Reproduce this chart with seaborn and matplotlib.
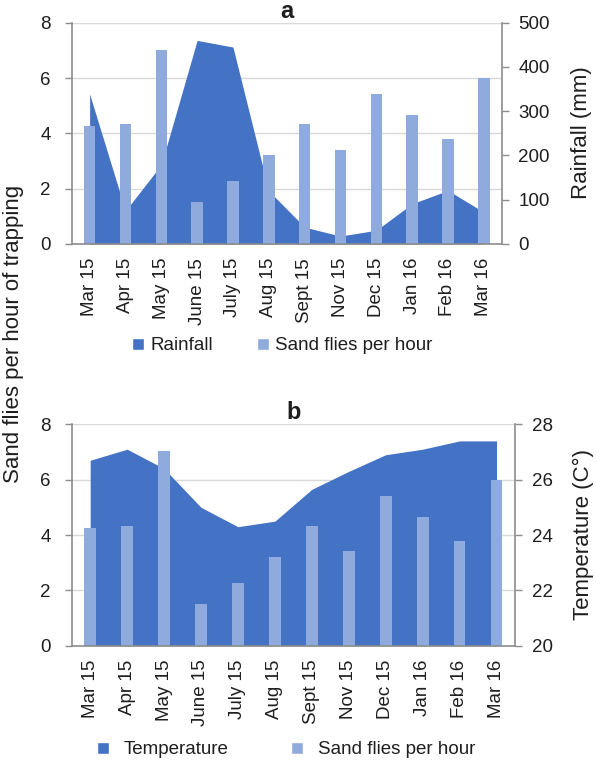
import matplotlib
matplotlib.use("Agg")
import matplotlib.pyplot as plt
import seaborn as sns
import numpy as np
from matplotlib.patches import Patch

# ---------------- data ----------------
months = ["Mar 15", "Apr 15", "May 15", "June 15", "July 15", "Aug 15",
          "Sept 15", "Nov 15", "Dec 15", "Jan 16", "Feb 16", "Mar 16"]
sand_flies = [4.27, 4.33, 7.03, 1.51, 2.28, 3.20, 4.32, 3.41, 5.42, 4.65, 3.79, 6.00]
rainfall = [339, 75, 179, 460, 445, 120, 38, 18, 31, 91, 121, 72]
temperature = [26.7, 27.1, 26.4, 25.0, 24.3, 24.5, 25.65, 26.3, 26.9, 27.1, 27.4, 27.4]

left_ticks = [0, 2, 4, 6, 8]
rain_ticks = [0, 100, 200, 300, 400, 500]
temp_ticks = [20, 22, 24, 26, 28]

# ---------------- style ----------------
sns.set_style("white")
plt.rcParams['font.family'] = ['Liberation Sans', 'DejaVu Sans']

DARK = "#4472C4"
LIGHT = "#8FAADC"
GRID = "#D9D9D9"
SPINE = "#8C8C8C"
TXT = "#1E1E1E"
FS = 13.5

W, H = 596, 762
fig = plt.figure(figsize=(W / 100, H / 100), dpi=100)


def rect(l, t, r, b):
    return [l / W, 1 - b / H, (r - l) / W, (b - t) / H]


def panel(box, area_vals, area_ticks, title, area_label, leg_xy, colsp, txtpad):
    ax = fig.add_axes(box)          # gridlines + left axis + category axis
    ax2 = ax.twinx()                # area (right axis)
    ax3 = ax.twinx()                # bars (left scale)

    # bars via seaborn
    sns.barplot(x=months, y=sand_flies, order=months, ax=ax3, color=LIGHT,
                width=0.32, saturation=1, edgecolor="none")
    # area on the right axis
    xpos = np.arange(len(months))
    ax2.fill_between(xpos, area_vals, area_ticks[0], color=DARK, linewidth=0)

    for a in (ax, ax3):
        a.set_ylim(left_ticks[0], left_ticks[-1])
    ax2.set_ylim(area_ticks[0], area_ticks[-1])
    ax.set_xlim(-0.5, len(months) - 0.5)

    ax.set_yticks(left_ticks)
    ax.yaxis.grid(True, color=GRID, linewidth=1)
    ax.xaxis.grid(False)
    ax.set_axisbelow(True)

    ax.set_xticks(xpos)
    ax.set_xticklabels(months, rotation=90, fontsize=FS, color=TXT)
    ax.tick_params(axis='x', length=0, pad=10)
    ax.tick_params(axis='y', left=True, length=5, width=1, color=SPINE,
                   pad=10, labelsize=FS, labelcolor=TXT)

    ax2.set_yticks(area_ticks)
    ax2.tick_params(axis='y', right=True, length=5, width=1, color=SPINE,
                    pad=7, labelsize=FS, labelcolor=TXT)

    ax3.yaxis.set_visible(False)
    ax3.set_xlabel("")
    ax3.set_ylabel("")

    for a in (ax, ax2, ax3):
        for s in a.spines.values():
            s.set_visible(False)
    for a, side in ((ax, 'left'), (ax3, 'bottom'), (ax2, 'right')):
        a.spines[side].set_visible(True)
        a.spines[side].set_color(SPINE)
        a.spines[side].set_linewidth(1.2)

    ax.set_title(title, fontsize=17, fontweight='bold', pad=3, color=TXT)

    handles = [Patch(facecolor=DARK, label=area_label),
               Patch(facecolor=LIGHT, label="Sand flies per hour")]
    fig.legend(handles=handles, loc='center', bbox_to_anchor=leg_xy, ncol=2,
               frameon=False, fontsize=FS, handlelength=0.65, handleheight=0.65,
               handletextpad=txtpad, columnspacing=colsp, labelcolor=TXT)
    return ax, ax2, ax3


panel(rect(71.7, 22.7, 501.7, 244), rainfall, rain_ticks, "a", "Rainfall",
      (282.5 / W, 1 - 346 / H), 2.3, 0.35)
panel(rect(71.7, 424.3, 515, 645.7), temperature, temp_ticks, "b", "Temperature",
      (286 / W, 1 - 750 / H), 3.3, 0.8)

fig.text(14 / W, 1 - 334 / H, "Sand flies per hour of trapping", rotation=90,
         ha='center', va='center', fontsize=16, color=TXT)
fig.text(581 / W, 1 - 133 / H, "Rainfall (mm)", rotation=90,
         ha='center', va='center', fontsize=16, color=TXT)
fig.text(583 / W, 1 - 535 / H, "Temperature (C°)", rotation=90,
         ha='center', va='center', fontsize=16, color=TXT)

fig.savefig("out.png", dpi=100)
